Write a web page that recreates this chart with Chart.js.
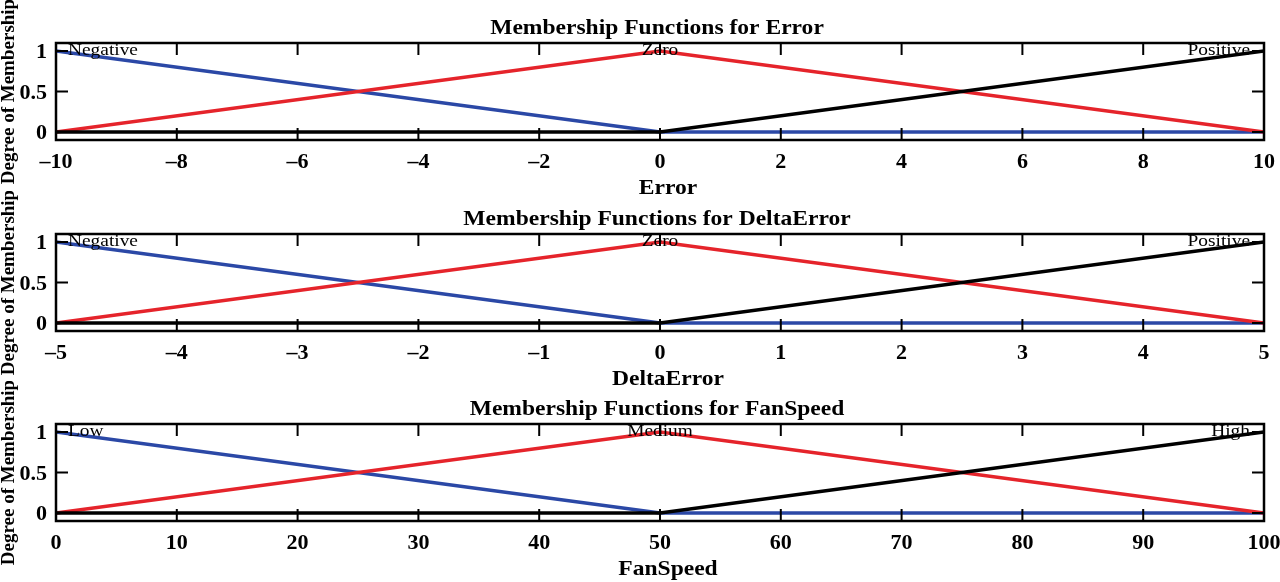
<!DOCTYPE html>
<html>
<head>
<title>Membership Functions</title>
<script src="https://cdn.jsdelivr.net/npm/chart.js@4.4.0/dist/chart.umd.min.js"></script>
<style>
  body { margin: 0; background: #fff; overflow: hidden; }
  canvas { position: absolute; left: 0; }
</style>
</head>
<body>

<canvas id="errorChart" width="1280" height="205" style="top:0px"></canvas>
<canvas id="deltaChart" width="1280" height="205" style="top:191px"></canvas>
<canvas id="fanChart" width="1280" height="205" style="top:381px"></canvas>

<script>
    // breakpoints of the triangular / ramp membership functions
    var errorX = [-10, 0, 10];
    var errorTicks = [-10, -8, -6, -4, -2, 0, 2, 4, 6, 8, 10];
    var deltaX = [-5, 0, 5];
    var deltaTicks = [-5, -4, -3, -2, -1, 0, 1, 2, 3, 4, 5];
    var fanX = [0, 50, 100];
    var fanTicks = [0, 10, 20, 30, 40, 50, 60, 70, 80, 90, 100];

    var lowValues = [1, 0, 0];
    var midValues = [0, 1, 0];
    var highValues = [0, 0, 1];

    var errorNames = ['Negative', 'Zero', 'Positive'];
    var fanNames = ['Low', 'Medium', 'High'];
    var yTicks = [0, 0.5, 1];
    var yTickLabels = ['0', '0.5', '1'];

    var serif = '"Liberation Serif", "Times New Roman", serif';

    function pts(xs, ys) {
        return xs.map(function (x, i) { return {x: x, y: ys[i]}; });
    }

    // text is a bit wider in the original figure
    function wideText(ctx, text, x, y, sx) {
        ctx.save();
        ctx.translate(x, y);
        ctx.scale(sx, 1);
        ctx.fillText(text, 0, 0);
        ctx.restore();
    }

    // draws the MATLAB style box, inner ticks and all texts
    var axesPlugin = {
        id: 'matlabAxes',
        afterDatasetsDraw: function (chart) {
            var o = chart.options.plugins.matlabAxes;
            var ctx = chart.ctx;
            var a = chart.chartArea;
            var xs = chart.scales.x, ys = chart.scales.y;
            ctx.save();
            ctx.fillStyle = '#000';

            // MF names
            ctx.font = '17px ' + serif;
            ctx.textBaseline = 'alphabetic';
            o.names.forEach(function (name, i) {
                var peak = o.xs[i];
                var px = xs.getPixelForValue(peak);
                if (peak === xs.min) { ctx.textAlign = 'left'; px += 12; }
                else if (peak === xs.max) { ctx.textAlign = 'right'; px -= 14; }
                else { ctx.textAlign = 'center'; }
                wideText(ctx, name, px, ys.getPixelForValue(1) + 4, 1.14);
            });

            // box
            ctx.strokeStyle = '#000';
            ctx.lineWidth = 2.5;
            ctx.strokeRect(a.left, a.top, a.right - a.left, a.bottom - a.top);

            // ticks
            ctx.lineWidth = 2;
            ctx.beginPath();
            o.ticks.forEach(function (t) {
                var px = xs.getPixelForValue(t);
                ctx.moveTo(px, a.bottom); ctx.lineTo(px, a.bottom - 12);
                ctx.moveTo(px, a.top); ctx.lineTo(px, a.top + 12);
            });
            yTicks.forEach(function (t) {
                var py = ys.getPixelForValue(t);
                ctx.moveTo(a.left, py); ctx.lineTo(a.left + 12, py);
                ctx.moveTo(a.right, py); ctx.lineTo(a.right - 12, py);
            });
            ctx.stroke();

            // tick labels
            ctx.font = 'bold 21px ' + serif;
            ctx.textAlign = 'center';
            o.ticks.forEach(function (t) {
                wideText(ctx, String(t).replace('-', '\u2013'), xs.getPixelForValue(t), a.bottom + 28, 1.05);
            });
            ctx.textAlign = 'right';
            yTicks.forEach(function (t, i) {
                wideText(ctx, yTickLabels[i], a.left - 9, ys.getPixelForValue(t) + 7, 1.05);
            });

            // title and x label
            ctx.textAlign = 'center';
            ctx.font = 'bold 22px ' + serif;
            wideText(ctx, o.title, (a.left + a.right) / 2 - 3, a.top - 9, 1.07);
            wideText(ctx, o.xlabel, (a.left + a.right) / 2 + 8, a.bottom + 54, 1.07);

            // y label
            ctx.font = 'bold 19px ' + serif;
            ctx.translate(14, (a.top + a.bottom) / 2);
            ctx.rotate(-Math.PI / 2);
            ctx.fillText('Degree of Membership', 0, 0);
            ctx.restore();
        }
    };

    function makeChart(id, xs, ticks, names, title, xlabel) {
        var ctx = document.getElementById(id).getContext('2d');
        return new Chart(ctx, {
            type: 'line',
            data: {
                datasets: [
                    {label: names[2], data: pts(xs, highValues), borderColor: '#000000', order: 0},
                    {label: names[1], data: pts(xs, midValues), borderColor: '#e5242b', order: 1},
                    {label: names[0], data: pts(xs, lowValues), borderColor: '#2b48a6', order: 2}
                ]
            },
            options: {
                responsive: false,
                animation: false,
                layout: {padding: {left: 56, right: 16, top: 43, bottom: 65}},
                elements: {
                    line: {borderWidth: 3.5, tension: 0},
                    point: {radius: 0}
                },
                scales: {
                    x: {type: 'linear', min: xs[0], max: xs[2], display: false},
                    y: {type: 'linear', min: -0.1, max: 1.1, display: false}
                },
                plugins: {
                    legend: {display: false},
                    tooltip: {enabled: false},
                    matlabAxes: {xs: xs, ticks: ticks, names: names, title: title, xlabel: xlabel}
                }
            },
            plugins: [axesPlugin]
        });
    }

    makeChart('errorChart', errorX, errorTicks, errorNames, 'Membership Functions for Error', 'Error');
    makeChart('deltaChart', deltaX, deltaTicks, errorNames, 'Membership Functions for DeltaError', 'DeltaError');
    makeChart('fanChart', fanX, fanTicks, fanNames, 'Membership Functions for FanSpeed', 'FanSpeed');
</script>
</body>
</html>
